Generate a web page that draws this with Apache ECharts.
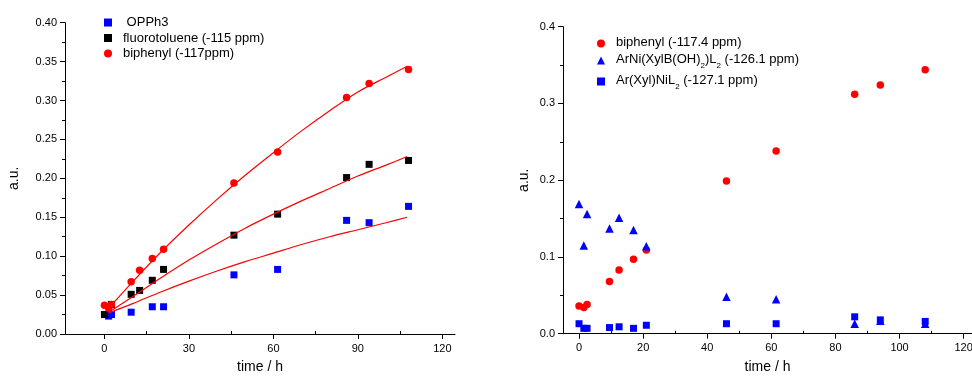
<!DOCTYPE html>
<html>
<head>
<meta charset="utf-8">
<script src="https://cdn.jsdelivr.net/npm/echarts@6/dist/echarts.min.js"></script>
<style>html,body{margin:0;padding:0;background:#fff}#c{width:972px;height:376px}</style>
</head>
<body>
<div id="c"></div>
<script>
// ---- Left panel data ----
var biphenylTimesL = [0, 1.5, 2.5, 9.5, 12.5, 17, 21, 46, 61.5, 86, 94, 108];
var biphenylL = [0.037, 0.033, 0.038, 0.067, 0.082, 0.097, 0.109, 0.194, 0.234, 0.304, 0.322, 0.340];
var fluoroTimesL = [0, 2.5, 9.5, 12.5, 17, 21, 46, 61.5, 86, 94, 108];
var fluoroL = [0.025, 0.038, 0.051, 0.056, 0.069, 0.083, 0.127, 0.154, 0.201, 0.218, 0.223];
var opph3TimesL = [1.5, 2.5, 9.5, 17, 21, 46, 61.5, 86, 94, 108];
var opph3L = [0.023, 0.025, 0.028, 0.035, 0.035, 0.076, 0.083, 0.146, 0.143, 0.164];
// fitted curves
var fitTimesBiphenyl = [2.5, 10, 20, 30, 40, 50, 60, 70, 80, 90, 100, 107.5];
var fitBiphenyl = [0.037, 0.067, 0.105, 0.140, 0.173, 0.204, 0.233, 0.261, 0.287, 0.311, 0.330, 0.344];
var fitTimes = [1.5, 10, 20, 30, 40, 50, 60, 70, 80, 90, 100, 107.5];
var fitFluoro = [0.028, 0.048, 0.072, 0.095, 0.116, 0.136, 0.154, 0.171, 0.187, 0.203, 0.217, 0.228];
var fitOpph3 = [0.027, 0.039, 0.054, 0.068, 0.081, 0.093, 0.104, 0.115, 0.125, 0.134, 0.143, 0.150];
var xTicksL = [0, 30, 60, 90, 120];
var xMinorTicksL = [15, 45, 75, 105];

// ---- Right panel data ----
var timesR = [0, 1.5, 2.5, 9.5, 12.5, 17, 21, 46, 61.5, 86, 94, 108];
var biphenylR = [0.036, 0.034, 0.038, 0.068, 0.083, 0.097, 0.109, 0.199, 0.238, 0.312, 0.324, 0.344];
var arniR = [0.169, 0.115, 0.156, 0.137, 0.151, 0.135, 0.114, 0.048, 0.045, 0.013, 0.017, 0.013];
var arxylR = [0.013, 0.007, 0.007, 0.008, 0.009, 0.007, 0.011, 0.013, 0.013, 0.022, 0.018, 0.016];
var xTicksR = [0, 20, 40, 60, 80, 100, 120];
var xMinorTicksR = [10, 30, 50, 70, 90, 110];

var namesL = [' OPPh3', 'fluorotoluene (-115 ppm)', 'biphenyl (-117ppm)'];
var namesR = ['biphenyl (-117.4 ppm)', 'ArNi(XylB(OH)2)L2 (-126.1 ppm)', 'Ar(Xyl)NiL2 (-127.1 ppm)'];

function pairs(xs, ys) { return xs.map(function (x, i) { return [x, ys[i]]; }); }

var FONT = 'Liberation Sans, Arial, sans-serif';
var axisLineStyle = { color: '#000', width: 1 };
var labelStyle = { color: '#000', fontSize: 11, fontFamily: FONT };
var nameStyle = { color: '#000', fontSize: 14, fontFamily: FONT };

var richLegend = {
  n: { fontSize: 13, fontFamily: FONT, color: '#000', lineHeight: 15, verticalAlign: 'top' },
  s: { fontSize: 8, fontFamily: FONT, color: '#000', lineHeight: 9, padding: [9, 0, 0, 0], verticalAlign: 'top' }
};
var legendFmt = {
  'biphenyl (-117.4 ppm)': '{n|biphenyl (-117.4 ppm)}',
  'ArNi(XylB(OH)2)L2 (-126.1 ppm)': '{n|ArNi(XylB(OH)}{s|2}{n|)L}{s|2}{n| (-126.1 ppm)}',
  'Ar(Xyl)NiL2 (-127.1 ppm)': '{n|Ar(Xyl)NiL}{s|2}{n| (-127.1 ppm)}'
};

function xAxisPair(grid, min, max, major, minor) {
  return [
    {
      gridIndex: grid, type: 'value', min: min, max: max,
      axisLine: { show: true, onZero: false, lineStyle: axisLineStyle },
      axisTick: { show: true, length: 5, lineStyle: axisLineStyle, customValues: major },
      axisLabel: Object.assign({ customValues: major, margin: 9 }, labelStyle),
      splitLine: { show: false },
      name: 'time / h', nameLocation: 'middle', nameGap: 26, nameTextStyle: nameStyle
    },
    {
      gridIndex: grid, type: 'value', min: min, max: max,
      axisLine: { show: false },
      axisTick: { show: true, length: 3, lineStyle: axisLineStyle, customValues: minor },
      axisLabel: { show: false },
      splitLine: { show: false }
    }
  ];
}

var xAxes = xAxisPair(0, -14, 124.5, xTicksL, xMinorTicksL).concat(xAxisPair(1, -5, 122.6, xTicksR, xMinorTicksR));

function fitSeries(name, xs, ys) {
  return { name: name, type: 'line', xAxisIndex: 0, yAxisIndex: 0, smooth: 0.3, showSymbol: false, symbol: 'none',
    lineStyle: { color: '#ff0000', width: 1.2 }, data: pairs(xs, ys), z: 3 };
}

var chart = echarts.init(document.getElementById('c'), null, { renderer: 'canvas' });
chart.setOption({
  animation: false,
  backgroundColor: '#fff',
  grid: [
    { left: 65, top: 22.7, width: 390, height: 311.3, containLabel: false, outerBoundsMode: 'none' },
    { left: 563, top: 26.7, width: 409, height: 307, containLabel: false, outerBoundsMode: 'none' }
  ],
  legend: [
    {
      data: namesL, orient: 'vertical', left: 99, top: 11, itemWidth: 8, itemHeight: 8, itemGap: 2.5,
      textStyle: { fontSize: 13, fontFamily: FONT, color: '#000', padding: [0, 0, 0, 6] }
    },
    {
      data: namesR, orient: 'vertical', left: 592, top: 31, itemWidth: 8, itemHeight: 8, itemGap: 4,
      formatter: function (n) { return legendFmt[n]; },
      textStyle: { rich: richLegend, padding: [0, 0, 0, 6] }
    }
  ],
  xAxis: xAxes,
  yAxis: [
    {
      gridIndex: 0, type: 'value', min: 0, max: 0.4, interval: 0.05,
      axisLine: { show: true, onZero: false, lineStyle: axisLineStyle },
      axisTick: { show: true, length: 5, lineStyle: axisLineStyle },
      minorTick: { show: true, splitNumber: 2, length: 3, lineStyle: axisLineStyle },
      axisLabel: Object.assign({ margin: 8, formatter: function (v) { return v.toFixed(2); } }, labelStyle),
      splitLine: { show: false },
      name: 'a.u.', nameLocation: 'middle', nameGap: 44, nameTextStyle: nameStyle
    },
    {
      gridIndex: 1, type: 'value', min: 0, max: 0.4, interval: 0.1,
      axisLine: { show: true, onZero: false, lineStyle: axisLineStyle },
      axisTick: { show: true, length: 5, lineStyle: axisLineStyle },
      minorTick: { show: true, splitNumber: 2, length: 3, lineStyle: axisLineStyle },
      axisLabel: Object.assign({ margin: 8, formatter: function (v) { return v.toFixed(1); } }, labelStyle),
      splitLine: { show: false },
      name: 'a.u.', nameLocation: 'middle', nameGap: 32, nameTextStyle: nameStyle
    }
  ],
  series: [
    { name: namesL[0], type: 'scatter', xAxisIndex: 0, yAxisIndex: 0, symbol: 'rect', symbolSize: 7,
      itemStyle: { color: '#0000ff', opacity: 1 }, data: pairs(opph3TimesL, opph3L) },
    { name: namesL[1], type: 'scatter', xAxisIndex: 0, yAxisIndex: 0, symbol: 'rect', symbolSize: 7,
      itemStyle: { color: '#000000', opacity: 1 }, data: pairs(fluoroTimesL, fluoroL) },
    fitSeries('fit1', fitTimes, fitOpph3),
    fitSeries('fit2', fitTimes, fitFluoro),
    fitSeries('fit3', fitTimesBiphenyl, fitBiphenyl),
    { name: namesL[2], type: 'scatter', xAxisIndex: 0, yAxisIndex: 0, symbol: 'circle', symbolSize: 7.5,
      itemStyle: { color: '#ff0000', opacity: 1 }, data: pairs(biphenylTimesL, biphenylL), z: 4 },

    { name: namesR[0], type: 'scatter', xAxisIndex: 2, yAxisIndex: 1, symbol: 'circle', symbolSize: 7.5,
      itemStyle: { color: '#ff0000', opacity: 1 }, data: pairs(timesR, biphenylR) },
    { name: namesR[1], type: 'scatter', xAxisIndex: 2, yAxisIndex: 1, symbol: 'triangle', symbolSize: 8.5,
      itemStyle: { color: '#0000ff', opacity: 1 }, data: pairs(timesR, arniR) },
    { name: namesR[2], type: 'scatter', xAxisIndex: 2, yAxisIndex: 1, symbol: 'rect', symbolSize: 7,
      itemStyle: { color: '#0000ff', opacity: 1 }, data: pairs(timesR, arxylR) }
  ]
});
</script>
</body>
</html>
